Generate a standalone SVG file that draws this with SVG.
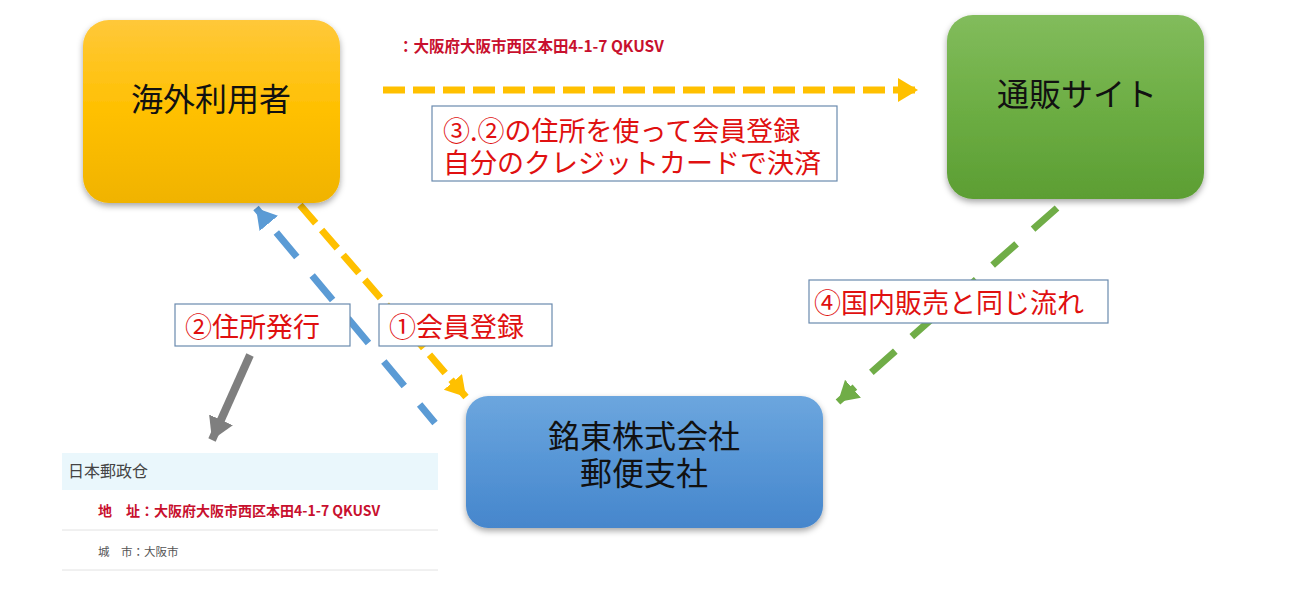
<svg xmlns="http://www.w3.org/2000/svg" width="1300" height="600" viewBox="0 0 1300 600">
<style>
.node-text{font-family:"Noto Sans CJK JP","Noto Sans",sans-serif;font-size:32px;fill:#111;text-anchor:middle;dominant-baseline:central}
.lbl-box{fill:#fff;stroke:#6A8AAE;stroke-width:1.2}
.lbl-text{font-family:"Noto Sans CJK JP","Noto Sans",sans-serif;font-size:27px;fill:#E01010;dominant-baseline:central}
.addr{font-family:"Noto Sans CJK JP","Noto Sans",sans-serif;font-weight:bold;fill:#C8102E}
.conn{fill:none;stroke-width:7}
</style>
<defs>
<linearGradient id="gY" x1="0" y1="0" x2="0" y2="1"><stop offset="0" stop-color="#FFC83A"/><stop offset="0.5" stop-color="#FFC000"/><stop offset="1" stop-color="#F0B300"/></linearGradient>
<linearGradient id="gG" x1="0" y1="0" x2="0" y2="1"><stop offset="0" stop-color="#82BC5C"/><stop offset="0.5" stop-color="#6DAE44"/><stop offset="1" stop-color="#5C9E33"/></linearGradient>
<linearGradient id="gB" x1="0" y1="0" x2="0" y2="1"><stop offset="0" stop-color="#6CA6DE"/><stop offset="0.5" stop-color="#5796D6"/><stop offset="1" stop-color="#4686CC"/></linearGradient>
<filter id="sh" x="-10%" y="-10%" width="120%" height="125%"><feDropShadow dx="0" dy="3" stdDeviation="3" flood-color="#000" flood-opacity="0.35"/></filter>
<marker id="aY" markerUnits="userSpaceOnUse" markerWidth="26" markerHeight="26" refX="20" refY="12" orient="auto"><path d="M0,0 L20,12 L0,24 Z" fill="#FFC000"/></marker>
<marker id="aB" markerUnits="userSpaceOnUse" markerWidth="26" markerHeight="26" refX="20" refY="12" orient="auto"><path d="M0,0 L20,12 L0,24 Z" fill="#5B9BD5"/></marker>
<marker id="aG" markerUnits="userSpaceOnUse" markerWidth="26" markerHeight="26" refX="20" refY="12" orient="auto"><path d="M0,0 L20,12 L0,24 Z" fill="#70AD47"/></marker>
<marker id="aK" markerUnits="userSpaceOnUse" markerWidth="28" markerHeight="28" refX="22" refY="13" orient="auto"><path d="M0,0 L22,13 L0,26 Z" fill="#7F7F7F"/></marker>
</defs>
<rect width="1300" height="600" fill="#fff"/>

<g id="connectors">
<line class="conn" x1="383" y1="90" x2="918" y2="90" stroke="#FFC000" stroke-dasharray="22 8" marker-end="url(#aY)"/>
<line class="conn" x1="300" y1="205" x2="466" y2="397" stroke="#FFC000" stroke-dasharray="24 9" marker-end="url(#aY)"/>
<line class="conn" x1="435" y1="423" x2="256" y2="208" stroke="#5B9BD5" stroke-dasharray="32 24" stroke-dashoffset="8" marker-end="url(#aB)"/>
<line class="conn" x1="1057" y1="208" x2="838" y2="402" stroke="#70AD47" stroke-dasharray="32 22" marker-end="url(#aG)"/>
<line x1="250" y1="355" x2="212" y2="440" stroke="#7F7F7F" stroke-width="8" marker-end="url(#aK)"/>
</g>

<g id="node-user">
<rect x="83" y="20" width="257" height="183" rx="26" fill="url(#gY)" filter="url(#sh)"/>
<text class="node-text" x="211" y="97">海外利用者</text>
</g>
<g id="node-shop">
<rect x="947" y="15" width="257" height="184" rx="26" fill="url(#gG)" filter="url(#sh)"/>
<text class="node-text" x="1077" y="92">通販サイト</text>
</g>
<g id="node-post">
<rect x="466" y="396" width="357" height="132" rx="22" fill="url(#gB)" filter="url(#sh)"/>
<text class="node-text"><tspan x="644" y="434">銘東株式会社</tspan><tspan x="644" y="471">郵便支社</tspan></text>
</g>

<g id="label-top-address">
<text class="addr" x="398" y="52" font-size="15.5">：大阪府大阪市西区本田4-1-7 QKUSV</text>
</g>
<g id="label-3">
<rect class="lbl-box" x="432" y="106" width="405" height="75"/>
<text class="lbl-text"><tspan x="443" y="129">③.②の住所を使って会員登録</tspan><tspan x="443" y="161">自分のクレジットカードで決済</tspan></text>
</g>
<g id="label-2">
<rect class="lbl-box" x="175" y="304" width="175" height="42"/>
<text class="lbl-text" x="185" y="325">②住所発行</text>
</g>
<g id="label-1">
<rect class="lbl-box" x="379" y="304" width="173" height="42"/>
<text class="lbl-text" x="389" y="325">①会員登録</text>
</g>
<g id="label-4">
<rect class="lbl-box" x="809" y="280" width="299" height="43"/>
<text class="lbl-text" x="814" y="301">④国内販売と同じ流れ</text>
</g>

<g id="panel-address">
<rect x="62" y="453" width="376" height="37" fill="#EAF7FC"/>
<text x="68" y="477" font-family="Noto Sans CJK JP,Noto Sans,sans-serif" font-size="16" fill="#444">日本郵政仓</text>
<text class="addr" x="98" y="516" font-size="14">地　址：大阪府大阪市西区本田4-1-7 QKUSV</text>
<line x1="62" y1="530" x2="438" y2="530" stroke="#E2E2E2" stroke-width="1"/>
<text x="98" y="556" font-family="Noto Sans CJK JP,Noto Sans,sans-serif" font-size="11.5" fill="#555">城　市：大阪市</text>
<line x1="62" y1="570" x2="438" y2="570" stroke="#E2E2E2" stroke-width="1"/>
</g>
</svg>
